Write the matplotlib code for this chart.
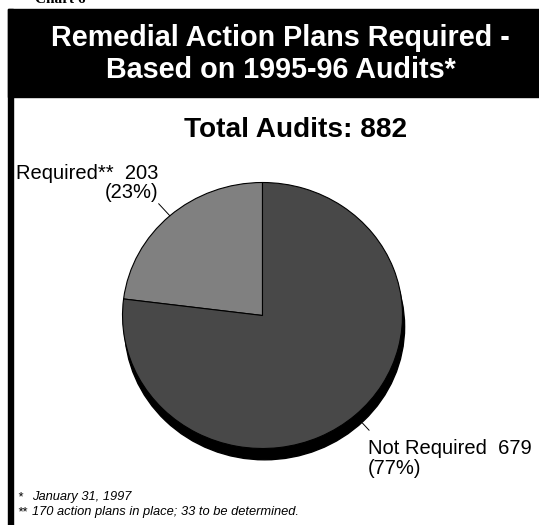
import matplotlib.pyplot as plt
from matplotlib.patches import Rectangle, Ellipse
import numpy as np

plt.rcParams['font.family'] = ['Liberation Sans', 'DejaVu Sans']

# audit outcomes
labels = ["Required**", "Not Required"]
values = [203, 679]
colors = ["#808080", "#484848"]
footnotes = [("*", "January 31, 1997"),
             ("**", "170 action plans in place; 33 to be determined.")]

W, H = 539, 525
fig = plt.figure(figsize=(W / 100, H / 100), dpi=100)

# background layer in pixel units
bg = fig.add_axes([0, 0, 1, 1])
bg.set_xlim(0, W)
bg.set_ylim(H, 0)
bg.axis("off")

bg.text(35, 3, "Chart 6", family="Liberation Serif", fontweight="bold",
        fontsize=11, va="baseline", ha="left")
bg.add_patch(Rectangle((8, 9), W - 8, 88, color="black"))
bg.add_patch(Rectangle((8, 9), 5, H - 9, color="black"))
bg.text(280, 46, "Remedial Action Plans Required -", color="white",
        fontweight="bold", fontsize=20.7, ha="center", va="baseline")
bg.text(281, 78, "Based on 1995-96 Audits*", color="white",
        fontweight="bold", fontsize=20.7, ha="center", va="baseline")

total = sum(values)
bg.text(296, 137, f"Total Audits: {total}", fontweight="bold",
        fontsize=20.2, ha="center", va="baseline")

for i, (mark, note) in enumerate(footnotes):
    y = 500 + i * 15
    bg.text(17, y, mark, style="italic", fontsize=9.3, va="baseline")
    bg.text(32, y, note, style="italic", fontsize=9.3, va="baseline")

# pie (slightly elliptical, with a dark drop edge)
cx, cy, rx, ry = 262.5, 315.5, 140, 133
ax = fig.add_axes([(cx - rx) / W, 1 - (cy + ry) / H, 2 * rx / W, 2 * ry / H])
shadow = Ellipse((0.015, -0.085), 2, 2, color="black", zorder=0)
ax.add_patch(shadow)
shadow.set_clip_on(False)
wedges, _ = ax.pie(values, colors=colors, startangle=90, counterclock=True,
                   radius=1, wedgeprops=dict(edgecolor="black", linewidth=0.8))
ax.set_aspect("auto")
ax.set_xlim(-1, 1)
ax.set_ylim(-1, 1)
ax.axis("off")
for w in wedges:
    w.set_clip_on(False)

# leader lines along each wedge's middle angle
fracs = np.array(values) / total
starts = 90 + 360 * np.concatenate([[0], np.cumsum(fracs)[:-1]])
mids = np.radians(starts + 180 * fracs)
leader_r = [(1.0, 1.12), (1.08, 1.15)]
for a, (r0, r1) in zip(mids, leader_r):
    ax.plot([r0 * np.cos(a), r1 * np.cos(a)], [r0 * np.sin(a), r1 * np.sin(a)],
            color="black", lw=0.7, clip_on=False)

pcts = [round(100 * f) for f in fracs]
bg.text(158, 179, f"{labels[0]}  {values[0]}", fontsize=14.5, ha="right", va="baseline")
bg.text(158, 198, f"({pcts[0]}%)", fontsize=14.5, ha="right", va="baseline")
bg.text(368, 454, f"{labels[1]}  {values[1]}", fontsize=14.5, ha="left", va="baseline")
bg.text(368, 474, f"({pcts[1]}%)", fontsize=14.5, ha="left", va="baseline")

fig.savefig("out.png", dpi=100)
